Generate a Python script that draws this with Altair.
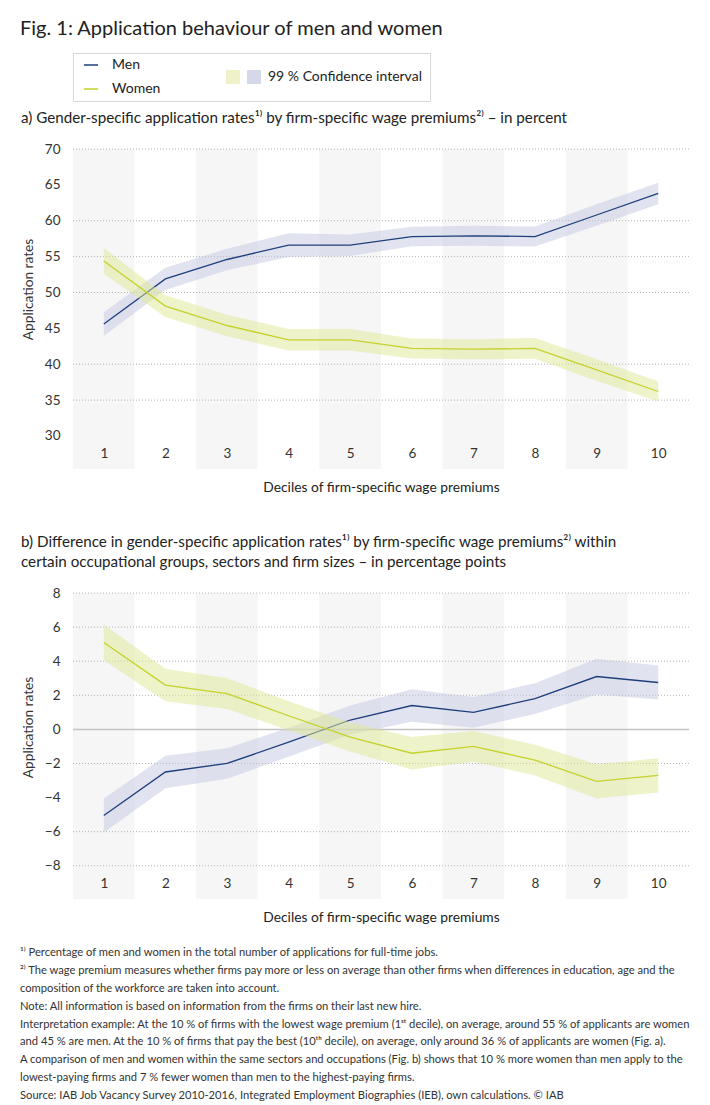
import altair as alt
import pandas as pd

# ---------------- data ----------------
DECILES = [1, 2, 3, 4, 5, 6, 7, 8, 9, 10]
SHADED_DECILES = [1, 3, 5, 7, 9]
SERIES = ["Men", "Women"]

# panel a: application rates in percent
MEN_A = [45.6, 51.9, 54.6, 56.6, 56.6, 57.8, 57.9, 57.8, 60.8, 63.8]
WOMEN_A = [54.4, 48.1, 45.4, 43.4, 43.4, 42.2, 42.1, 42.2, 39.2, 36.2]
CI_A_MEN = [1.65, 1.55, 1.5, 1.65, 1.5, 1.35, 1.4, 1.4, 1.5, 1.5]
CI_A_WOMEN = [1.8, 1.5, 1.5, 1.5, 1.5, 1.4, 1.4, 1.45, 1.5, 1.4]

# panel b: difference in percentage points
MEN_B = [-5.05, -2.5, -2.0, -0.75, 0.55, 1.4, 1.0, 1.8, 3.1, 2.75]
WOMEN_B = [5.1, 2.6, 2.1, 0.8, -0.45, -1.4, -1.0, -1.8, -3.05, -2.7]
CI_B_MEN = [1.0, 0.95, 0.9, 0.85, 0.85, 0.95, 0.9, 0.9, 1.05, 1.0]
CI_B_WOMEN = [1.05, 0.95, 0.9, 0.85, 0.85, 0.95, 0.9, 0.9, 1.0, 1.0]

Y_LABELS_A = [30, 35, 40, 45, 50, 55, 60, 65, 70]
GRID_A = [35, 40, 50, 55, 60, 70]
Y_DOMAIN_A = [25.4, 70]

Y_LABELS_B = [-8, -6, -4, -2, 0, 2, 4, 6, 8]
GRID_B = [-8, -6, -2, 2, 4, 6, 8]
Y_DOMAIN_B = [-9.95, 8]

CI_LEGEND = [" ", "99 % Confidence interval"]

TITLE = "Fig. 1: Application behaviour of men and women"
TITLE_A = "a) Gender-specific application rates\u00b9\u207e by firm-specific wage premiums\u00b2\u207e \u2013 in percent"
TITLE_B = [
    "b) Difference in gender-specific application rates\u00b9\u207e by firm-specific wage premiums\u00b2\u207e within",
    "certain occupational groups, sectors and firm sizes \u2013 in percentage points",
]
X_TITLE = "Deciles of firm-specific wage premiums"
Y_TITLE = "Application rates"

FOOTNOTES = [
    "\u00b9\u207e  Percentage of men and women in the total number of applications for full-time jobs.",
    "\u00b2\u207e The wage premium measures whether firms pay more or less on average than other firms when differences in education, age and the",
    "composition of the workforce are taken into account.",
    "Note: All information is based on information from the firms on their last new hire.",
    "Interpretation example: At the 10 % of firms with the lowest wage premium (1\u02e2\u1d57 decile), on average, around 55 % of applicants are women",
    "and 45 % are men. At the 10 % of firms that pay the best (10\u1d57\u02b0 decile), on average, only around 36 % of applicants are women (Fig. a).",
    "A comparison of men and women within the same sectors and occupations (Fig. b) shows that 10 % more women than men apply to the",
    "lowest-paying firms and 7 % fewer women than men to the highest-paying firms.",
    "Source: IAB Job Vacancy Survey 2010-2016, Integrated Employment Biographies (IEB), own calculations.  \u00a9 IAB",
]

# ---------------- styles ----------------
FONT = "Lato"
MEN_LINE = "#1f3f7c"
WOMEN_LINE = "#c5d12c"
MEN_CI = "#c3c9e1"
WOMEN_CI = "#dfe793"
LEG_MEN_CI = "#d5d8e9"
LEG_WOMEN_CI = "#eef2c6"
BAND = "#f6f6f7"
GRID_COLOR = "#b4b4b4"
TEXT = "#222222"
W = 616


def make_df(men, women, ci_m, ci_w):
    rows = []
    for d, v, c in zip(DECILES, men, ci_m):
        rows.append({"decile": d, "series": "Men", "value": v, "lo": v - c, "hi": v + c})
    for d, v, c in zip(DECILES, women, ci_w):
        rows.append({"decile": d, "series": "Women", "value": v, "lo": v - c, "hi": v + c})
    return pd.DataFrame(rows)


def panel(df, y_domain, y_labels, grid_vals, height, title, title_y, zero=False):
    xscale = alt.Scale(domain=[0.5, 10.5], nice=False, zero=False)
    xaxis = alt.Axis(values=DECILES, format="d", title=X_TITLE, grid=False, domain=False,
                     ticks=False, labelFontSize=13.5, labelColor="#333", labelPadding=5,
                     labelOverlap=False, labelFlush=False, zindex=2,
                     offset=-28, titleFontSize=13.8, titleFontWeight="normal", titleColor=TEXT,
                     titlePadding=21)
    yscale = alt.Scale(domain=y_domain, nice=False, zero=False)
    yaxis = alt.Axis(values=y_labels, format="d", title=Y_TITLE, grid=False, domain=False,
                     ticks=False, labelFontSize=13.5, labelColor="#333", labelPadding=13,
                     labelOverlap=False,
                     titleFontSize=13.7, titleFontWeight="normal", titleColor="#333",
                     titleX=-45, titleY=title_y, titleAlign="center", titleBaseline="middle",
                     titleAngle=270)

    bands = alt.Chart(pd.DataFrame({"decile": SHADED_DECILES})).transform_calculate(
        x0="datum.decile - 0.5", x1="datum.decile + 0.5"
    ).mark_rect(color=BAND).encode(
        x=alt.X("x0:Q", scale=xscale, axis=xaxis),
        x2="x1:Q",
        y=alt.Y(datum=y_domain[1], type="quantitative", scale=yscale, axis=yaxis),
        y2=alt.Y2(datum=y_domain[0]),
    )
    grid = alt.Chart(pd.DataFrame({"v": grid_vals})).mark_rule(
        color=GRID_COLOR, strokeDash=[1, 2], strokeWidth=1
    ).encode(y=alt.Y("v:Q", scale=yscale, axis=yaxis))

    layers = [bands, grid]
    if zero:
        layers.append(
            alt.Chart(pd.DataFrame({"v": [0]})).mark_rule(color="#c4c4c4", strokeWidth=1.5)
            .encode(y=alt.Y("v:Q", scale=yscale, axis=yaxis))
        )

    base = alt.Chart(df)
    for s, ci_col, line_col in [("Men", MEN_CI, MEN_LINE), ("Women", WOMEN_CI, WOMEN_LINE)]:
        area = base.transform_filter(alt.datum.series == s).mark_area(
            color=ci_col, opacity=0.5
        ).encode(
            x=alt.X("decile:Q", scale=xscale, axis=xaxis),
            y=alt.Y("lo:Q", scale=yscale, axis=yaxis),
            y2="hi:Q",
        )
        line = base.transform_filter(alt.datum.series == s).mark_line(
            color=line_col, strokeWidth=1.3
        ).encode(
            x=alt.X("decile:Q", scale=xscale, axis=xaxis),
            y=alt.Y("value:Q", scale=yscale, axis=yaxis),
        )
        layers += [area, line]

    return alt.layer(*layers).properties(
        width=W, height=height,
        title=alt.TitleParams(title, anchor="start", frame="bounds", fontSize=15.2,
                              fontWeight="normal", color=TEXT, offset=16, lineHeight=20),
    )


df_a = make_df(MEN_A, WOMEN_A, CI_A_MEN, CI_A_WOMEN)
df_b = make_df(MEN_B, WOMEN_B, CI_B_MEN, CI_B_WOMEN)

panel_a = panel(df_a, Y_DOMAIN_A, Y_LABELS_A, GRID_A, 320, TITLE_A, 140)
panel_b = panel(df_b, Y_DOMAIN_B, Y_LABELS_B, GRID_B, 306, TITLE_B, 134, zero=True)

# ---------------- legend box ----------------
leg_df = pd.DataFrame({"series": SERIES, "ci": CI_LEGEND})
leg_lines = alt.Chart(leg_df).mark_point(opacity=0).encode(
    color=alt.Color("series:N", scale=alt.Scale(domain=SERIES, range=[MEN_LINE, WOMEN_LINE]),
                    legend=alt.Legend(orient="none", legendX=10, legendY=4, title=None,
                                      symbolType="stroke", symbolSize=200, symbolStrokeWidth=1.5,
                                      symbolOpacity=1, labelFontSize=14, labelColor=TEXT,
                                      labelOffset=13, rowPadding=9))
)
leg_ci = alt.Chart(leg_df).mark_square(opacity=0).encode(
    fill=alt.Fill("ci:N", scale=alt.Scale(domain=CI_LEGEND, range=[LEG_WOMEN_CI, LEG_MEN_CI]),
                  legend=alt.Legend(orient="none", legendX=153, legendY=17, title=None,
                                    direction="horizontal", columns=2, symbolType="square",
                                    symbolSize=196, symbolOpacity=1, symbolStrokeWidth=0,
                                    labelFontSize=14, labelColor=TEXT, labelOffset=7,
                                    columnPadding=0))
)
legend_chart = alt.layer(leg_lines, leg_ci).properties(
    width=357, height=48,
    view=alt.ViewBackground(stroke="#d8d8d8", strokeWidth=1, fill="white"),
)

# ---------------- footnotes ----------------
foot = alt.Chart(pd.DataFrame({"i": list(range(len(FOOTNOTES))), "t": FOOTNOTES})).mark_text(
    align="left", baseline="middle", dx=-53, fontSize=11.2, color="#333"
).encode(
    y=alt.Y("i:O", axis=None, scale=alt.Scale(paddingInner=0, paddingOuter=0)),
    x=alt.value(0),
    text="t:N",
).properties(width=W, height=161)

upper = alt.vconcat(legend_chart, panel_a, spacing=8).resolve_scale(
    color="independent", fill="independent"
).resolve_legend(color="independent", fill="independent")
lower = alt.vconcat(panel_b, foot, spacing=19)

chart = alt.vconcat(upper, lower, spacing=39).resolve_scale(
    color="independent", fill="independent"
).resolve_legend(color="independent", fill="independent").properties(
    title=alt.TitleParams(TITLE, anchor="start", frame="bounds", fontSize=20,
                          fontWeight="normal", color=TEXT, offset=14),
    padding={"left": 12, "top": 10, "right": 0, "bottom": 5},
).configure(font=FONT).configure_view(stroke=None)

chart.save("out.html", embed_options={"renderer": "svg", "actions": False})
